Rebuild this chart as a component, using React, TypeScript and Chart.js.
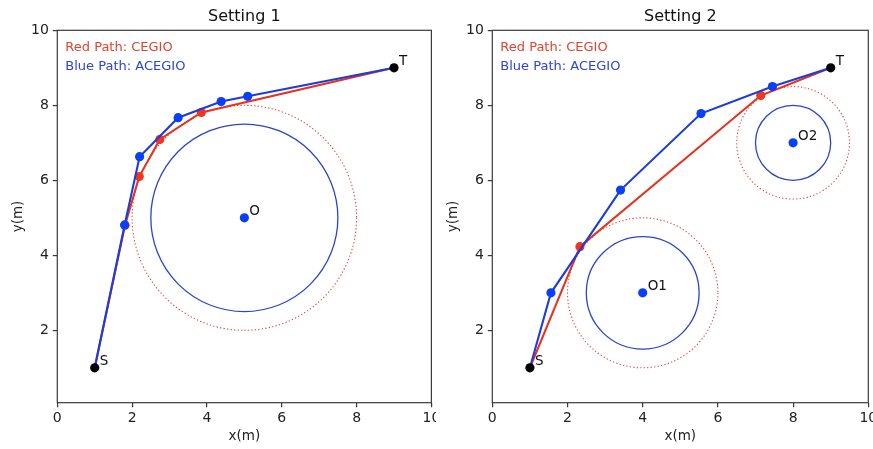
import React, { useEffect, useRef } from 'react';
import { Chart, registerables } from 'chart.js';

Chart.register(...registerables);

// ---------- data ----------
const xTickValues = [0, 2, 4, 6, 8, 10];
const yTickValues = [2, 4, 6, 8, 10];
const titles = ['Setting 1', 'Setting 2'];
const legendRed = 'Red Path: CEGIO';
const legendBlue = 'Blue Path: ACEGIO';

// Setting 1
const s1Start: [number, number] = [1, 1];
const s1Target: [number, number] = [9, 9];
const s1Red: [number, number][] = [[1, 1], [1.81, 4.8], [2.19, 6.1], [2.74, 7.09], [3.85, 7.81], [9, 9]];
const s1Blue: [number, number][] = [[1, 1], [1.8, 4.81], [2.2, 6.63], [3.23, 7.67], [4.38, 8.1], [5.09, 8.24], [9, 9]];
const s1Obstacles = [{ name: 'O', x: 5, y: 5, inner: 2.5, outer: 3 }];

// Setting 2
const s2Start: [number, number] = [1, 1];
const s2Target: [number, number] = [9, 9];
const s2Red: [number, number][] = [[1, 1], [2.33, 4.23], [7.14, 8.26], [9, 9]];
const s2Blue: [number, number][] = [[1, 1], [1.56, 3.0], [3.41, 5.74], [5.55, 7.78], [7.45, 8.5], [9, 9]];
const s2Obstacles = [
  { name: 'O1', x: 4, y: 3, inner: 1.5, outer: 2 },
  { name: 'O2', x: 8, y: 7, inner: 1, outer: 1.5 },
];

// ---------- style ----------
const FONT = "'DejaVu Sans', sans-serif";
const RED_LINE = '#e6321e';
const RED_PT = '#f0361f';
const BLUE_LINE = '#1c3cdc';
const BLUE_PT = '#0a40f5';
const AXIS = '#3a3a3a';

const overlay = {
  id: 'overlay',
  beforeDatasetsDraw(chart: any, _args: any, opts: any) {
    const { ctx, chartArea: a, scales } = chart;
    const xs = scales.x, ys = scales.y;
    ctx.save();
    ctx.beginPath();
    ctx.rect(a.left, a.top, a.right - a.left, a.bottom - a.top);
    ctx.clip();
    for (const ob of opts.obstacles) {
      const cx = xs.getPixelForValue(ob.x);
      const cy = ys.getPixelForValue(ob.y);
      const rxi = Math.abs(xs.getPixelForValue(ob.x + ob.inner) - cx);
      const ryi = Math.abs(ys.getPixelForValue(ob.y + ob.inner) - cy);
      const rxo = Math.abs(xs.getPixelForValue(ob.x + ob.outer) - cx);
      const ryo = Math.abs(ys.getPixelForValue(ob.y + ob.outer) - cy);
      ctx.setLineDash([]);
      ctx.strokeStyle = '#2a45cc';
      ctx.lineWidth = 1.3;
      ctx.beginPath();
      ctx.ellipse(cx, cy, rxi, ryi, 0, 0, Math.PI * 2);
      ctx.stroke();
      ctx.setLineDash([1.3, 2.2]);
      ctx.strokeStyle = '#e2483a';
      ctx.lineWidth = 1.1;
      ctx.beginPath();
      ctx.ellipse(cx, cy, rxo, ryo, 0, 0, Math.PI * 2);
      ctx.stroke();
    }
    ctx.restore();
  },
  afterDraw(chart: any, _args: any, opts: any) {
    const { ctx, chartArea: a, scales } = chart;
    const xs = scales.x, ys = scales.y;
    ctx.save();
    // frame
    ctx.strokeStyle = AXIS;
    ctx.lineWidth = 1.2;
    ctx.strokeRect(a.left, a.top, a.right - a.left, a.bottom - a.top);
    // title
    ctx.fillStyle = '#111';
    ctx.font = `16px ${FONT}`;
    ctx.textAlign = 'center';
    ctx.textBaseline = 'middle';
    ctx.fillText(opts.title, (a.left + a.right) / 2, 16.5);
    // axis titles
    ctx.font = `13.5px ${FONT}`;
    ctx.fillStyle = '#222';
    ctx.fillText('x(m)', (a.left + a.right) / 2, a.bottom + 34);
    ctx.save();
    ctx.translate(a.left - 39, (a.top + a.bottom) / 2);
    ctx.rotate(-Math.PI / 2);
    ctx.fillText('y(m)', 0, 0);
    ctx.restore();
    // legend texts
    ctx.font = `13px ${FONT}`;
    ctx.textAlign = 'left';
    ctx.fillStyle = '#e0442f';
    ctx.fillText(legendRed, a.left + 8, a.top + 17.5);
    ctx.fillStyle = '#2b45d6';
    ctx.fillText(legendBlue, a.left + 8, a.top + 36.5);
    // point labels
    ctx.font = `13.5px ${FONT}`;
    ctx.fillStyle = '#111';
    for (const lb of opts.labels) {
      const px = xs.getPixelForValue(lb.x);
      const py = ys.getPixelForValue(lb.y);
      ctx.fillText(lb.text, px + 5, py - 6);
    }
    ctx.restore();
  },
};

function toPts(arr: [number, number][]) {
  return arr.map(([x, y]) => ({ x, y }));
}

function innerRadii(n: number) {
  return Array.from({ length: n }, (_, i) => (i === 0 || i === n - 1 ? 0 : 4.6));
}

function makeConfig(
  title: string,
  red: [number, number][],
  blue: [number, number][],
  start: [number, number],
  target: [number, number],
  obstacles: any[],
  padRight: number,
  axisWidth: number,
) {
  const labels = [
    { text: 'S', x: start[0], y: start[1] },
    { text: 'T', x: target[0], y: target[1] },
    ...obstacles.map((o) => ({ text: o.name, x: o.x, y: o.y })),
  ];
  return {
    type: 'scatter' as const,
    data: {
      datasets: [
        {
          label: 'red',
          data: toPts(red),
          order: 3,
          showLine: true,
          borderColor: RED_LINE,
          backgroundColor: RED_PT,
          borderWidth: 2.1,
          pointRadius: innerRadii(red.length),
          pointBorderWidth: 0,
          pointBackgroundColor: RED_PT,
        },
        {
          label: 'blue',
          data: toPts(blue),
          order: 2,
          showLine: true,
          borderColor: BLUE_LINE,
          backgroundColor: BLUE_PT,
          borderWidth: 2.1,
          pointRadius: innerRadii(blue.length),
          pointBorderWidth: 0,
          pointBackgroundColor: BLUE_PT,
        },
        {
          label: 'centers',
          data: obstacles.map((o) => ({ x: o.x, y: o.y })),
          order: 1,
          showLine: false,
          pointRadius: 4.6,
          pointBorderWidth: 0,
          pointBackgroundColor: BLUE_PT,
          backgroundColor: BLUE_PT,
        },
        {
          label: 'ends',
          data: toPts([start, target]),
          order: 0,
          showLine: false,
          pointRadius: 4.6,
          pointBorderWidth: 0,
          pointBackgroundColor: '#000',
          backgroundColor: '#000',
        },
      ],
    },
    options: {
      responsive: false,
      animation: false,
      devicePixelRatio: 1,
      events: [],
      layout: { padding: { left: 0, top: 30.3, right: padRight, bottom: 0 } },
      plugins: {
        legend: { display: false },
        title: { display: false },
        tooltip: { enabled: false },
        overlay: { title, obstacles, labels },
      },
      scales: {
        x: {
          type: 'linear',
          min: 0,
          max: 10,
          afterBuildTicks: (s: any) => {
            s.ticks = xTickValues.map((v) => ({ value: v }));
          },
          afterFit: (s: any) => {
            s.height = 449 - 402.7;
            s.paddingLeft = 0;
            s.paddingRight = 0;
          },
          ticks: { font: { family: FONT, size: 14 }, color: '#222', padding: 3, maxRotation: 0 },
          grid: { drawOnChartArea: false, drawTicks: true, tickLength: 4.5, color: AXIS, lineWidth: 1.2 },
          border: { display: false },
        },
        y: {
          type: 'linear',
          min: 0.07,
          max: 10,
          afterBuildTicks: (s: any) => {
            s.ticks = yTickValues.map((v) => ({ value: v }));
          },
          afterFit: (s: any) => {
            s.width = axisWidth;
            s.paddingTop = 0;
            s.paddingBottom = 0;
          },
          ticks: { font: { family: FONT, size: 14 }, color: '#222', padding: 4 },
          grid: { drawOnChartArea: false, drawTicks: true, tickLength: 4.5, color: AXIS, lineWidth: 1.2 },
          border: { display: false },
        },
      },
    },
    plugins: [overlay],
  };
}

function Plot(props: { cfg: any; left: number; width: number }) {
  const ref = useRef<HTMLCanvasElement>(null);
  useEffect(() => {
    if (!ref.current) return;
    const chart = new Chart(ref.current, props.cfg);
    return () => chart.destroy();
  }, []);
  return (
    <canvas
      ref={ref}
      width={props.width}
      height={449}
      style={{ position: 'absolute', left: props.left, top: 0, width: props.width, height: 449 }}
    />
  );
}

export default function App() {
  const cfg1 = makeConfig(titles[0], s1Red, s1Blue, s1Start, s1Target, s1Obstacles, 436 - 432.3, 57.3);
  const cfg2 = makeConfig(titles[1], s2Red, s2Blue, s2Start, s2Target, s2Obstacles, 437 - 432.3, 56.3);
  return (
    <div style={{ position: 'fixed', left: 0, top: 0, width: 873, height: 449, background: '#fff', overflow: 'hidden' }}>
      <Plot cfg={cfg1} left={0} width={436} />
      <Plot cfg={cfg2} left={436} width={437} />
    </div>
  );
}
